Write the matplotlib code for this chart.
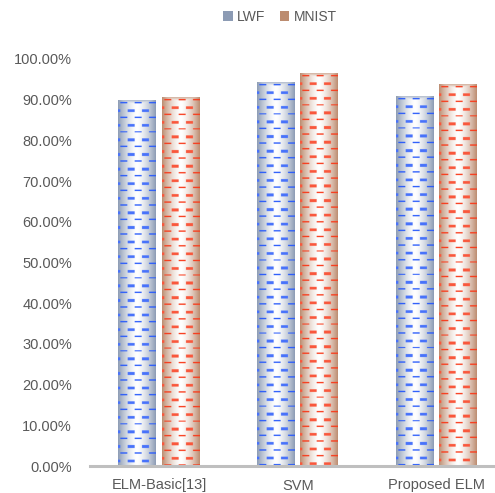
import numpy as np
import matplotlib
matplotlib.use("Agg")
import matplotlib.pyplot as plt
from matplotlib.patches import Patch
from matplotlib.ticker import PercentFormatter

# accuracy of each method on the two datasets
categories = ["ELM-Basic[13]", "SVM", "Proposed ELM"]
lwf = [0.899, 0.943, 0.907]
mnist = [0.906, 0.965, 0.938]

series_names = ["LWF", "MNIST"]
edge_colors = [(140, 155, 180), (188, 140, 112)]
dash_colors = [(40, 90, 250), (248, 58, 26)]

plt.rcParams['font.family'] = ['Liberation Sans', 'DejaVu Sans']

W_PX, H_PX = 495, 493
fig = plt.figure(figsize=(W_PX / 100, H_PX / 100), dpi=100)
ax = fig.add_axes([90 / W_PX, 27 / H_PX, 405 / W_PX, 407 / H_PX])

ax.set_xlim(-0.496, 2.418)
ax.set_ylim(0, 1.0)

width = 0.273
offset = 0.155
x = np.arange(len(categories))


def bar_texture(w_px, h_px, edge, dash, ss=3):
    # cylinder-like shading with rows of dashes, pixel sized
    W, H = max(int(round(w_px * ss)), 1), max(int(round(h_px * ss)), 1)
    xs = (np.arange(W) + 0.5) / ss
    ys = (np.arange(H) + 0.5) / ss
    t = np.abs(2 * xs / w_px - 1)
    shade = t ** 1.5
    top = np.clip(1 - ys / 4.0, 0, 1) * 0.7
    s = np.maximum(shade[None, :], top[:, None])
    edge = np.array(edge) / 255.0
    img = 1 - s[..., None] * (1 - edge[None, None, :])

    yy = ys[:, None] - 2.0
    xx = xs[None, :]
    row_h = 7.3
    k = np.floor(yy / row_h)
    r = yy - k * row_h
    even = (k % 2 == 0)
    thin = even & (r >= 0) & (r < 1.3) & (((xx - 2.5) % 14.3) < 7)
    thick = (~even) & (r >= 0) & (r < 2.8) & (((xx - 9.6) % 14.3) < 7)
    dash = np.array(dash) / 255.0
    light = 0.85 * dash + 0.15
    img[thin] = dash
    img[thick] = light
    return img


for i, (name, vals) in enumerate(zip(series_names, [lwf, mnist])):
    bars = ax.bar(x + (2 * i - 1) * offset, vals, width,
                  facecolor='none', edgecolor='none', label=name)
    for b in bars:
        x0, y0 = b.get_x(), b.get_y()
        x1, y1 = x0 + b.get_width(), y0 + b.get_height()
        p0 = ax.transData.transform((x0, y0))
        p1 = ax.transData.transform((x1, y1))
        tex = bar_texture(p1[0] - p0[0], p1[1] - p0[1],
                          edge_colors[i], dash_colors[i])
        ax.imshow(tex, extent=(x0, x1, y0, y1), aspect='auto',
                  interpolation='antialiased', zorder=2)

ax.set_xlim(-0.496, 2.418)
ax.set_ylim(0, 1.0)
ax.set_yticks(np.arange(0, 1.01, 0.1))
ax.yaxis.set_major_formatter(PercentFormatter(1.0, decimals=2))
ax.set_xticks(x)
ax.set_xticklabels(categories)

for side in ['top', 'right', 'left']:
    ax.spines[side].set_visible(False)
ax.spines['bottom'].set_color('#bfbfbf')
ax.spines['bottom'].set_linewidth(2.2)
ax.spines['bottom'].set_zorder(3)
ax.tick_params(axis='y', length=0, pad=13, labelsize=10.5, labelcolor='#595959')
ax.tick_params(axis='x', length=0, pad=9, labelsize=10.5, labelcolor='#595959')

handles = [Patch(facecolor=np.array(c) / 255.0, label=n)
           for n, c in zip(series_names, edge_colors)]
fig.legend(handles=handles, loc='center', bbox_to_anchor=(280 / W_PX, 1 - 17 / H_PX),
           ncol=2, frameon=False, fontsize=10, handlelength=0.7, handleheight=0.8,
           handletextpad=0.3, columnspacing=1.0, labelcolor='#595959')

fig.savefig('out.png', dpi=100)
